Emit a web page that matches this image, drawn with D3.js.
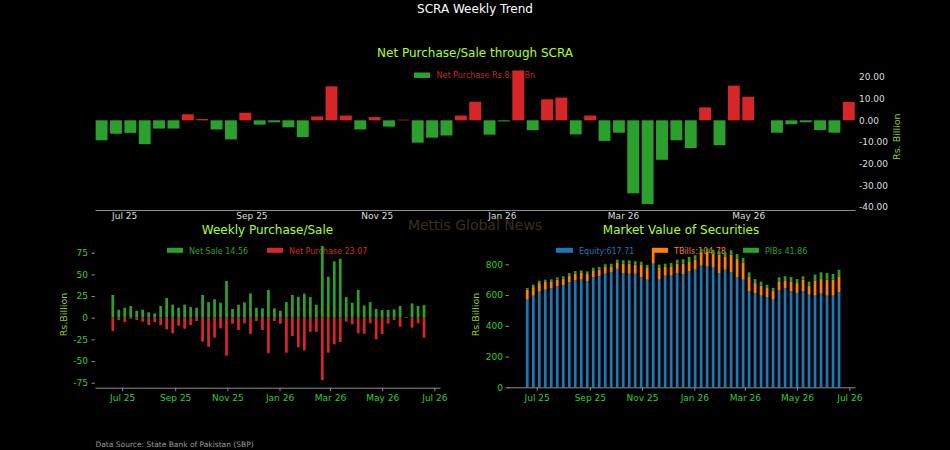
<!DOCTYPE html>
<html><head><meta charset="utf-8">
<script src="https://cdn.jsdelivr.net/npm/d3@7"></script>
<style>html,body{margin:0;padding:0;background:#000;}svg{display:block;}text{font-family:"DejaVu Sans",sans-serif;}</style>
</head><body><svg id="c" width="950" height="450"></svg>
<script>
// ---------------- DATA ----------------
const weekDates = ["2025-06-20","2025-06-27","2025-07-04","2025-07-11","2025-07-18","2025-07-25","2025-08-01","2025-08-08","2025-08-15","2025-08-22","2025-08-29","2025-09-05","2025-09-12","2025-09-19","2025-09-26","2025-10-03","2025-10-10","2025-10-17","2025-10-24","2025-10-31","2025-11-07","2025-11-14","2025-11-21","2025-11-28","2025-12-05","2025-12-12","2025-12-19","2025-12-26","2026-01-02","2026-01-09","2026-01-16","2026-01-23","2026-01-30","2026-02-06","2026-02-13","2026-02-20","2026-02-27","2026-03-06","2026-03-13","2026-03-20","2026-03-27","2026-04-03","2026-04-10","2026-04-17","2026-04-24","2026-05-01","2026-05-08","2026-05-15","2026-05-22","2026-05-29","2026-06-05","2026-06-12","2026-06-19"];
// Net purchase(+)/sale(-) through SCRA, Rs. Billion
const netFlow = [-9.2,-6.2,-5.8,-11.0,-3.8,-3.8,2.8,0.6,-4.2,-8.8,3.5,-2.0,-0.9,-3.2,-7.7,1.8,15.7,2.2,-4.2,1.5,-2.9,0.3,-10.3,-8.0,-7.0,2.2,8.6,-6.6,-0.5,23.0,-4.5,9.7,10.5,-6.5,2.2,-9.5,-5.7,-33.7,-38.6,-18.2,-9.2,-12.8,6.0,-11.5,16.0,10.9,0,-5.7,-1.8,-0.9,-4.5,-5.7,8.51];
// Weekly gross sale (green, up) and purchase (red, down)
const weeklySale = [26.2,9.2,11.5,13.5,8.0,9.2,6.2,5.0,13.5,22.7,15.0,11.5,15.0,12.3,11.5,26.2,18.0,21.2,17.3,42.3,10.0,15.0,17.7,28.0,11.5,10.8,32.0,10.8,8.0,18.0,26.2,24.2,27.7,23.8,15.0,82.7,47.3,65.0,68.0,23.8,17.3,32.0,14.2,18.0,10.0,8.8,8.8,9.6,13.5,0.9,16.5,13.5,14.56];
const weeklyPurchase = [15.4,2.7,5.0,1.2,2.7,4.6,8.5,5.0,8.5,13.5,18.0,9.2,12.7,8.5,3.8,27.7,33.5,23.0,12.3,43.8,6.9,14.2,6.5,18.8,3.8,14.2,41.0,3.8,6.9,40.4,21.2,34.2,37.7,16.2,16.2,72.0,40.4,30.8,28.0,4.6,7.7,18.0,18.5,6.5,25.0,18.8,6.9,2.7,10.4,0,11.5,6.5,23.07];
// Market value of securities, Rs. Billion
const equity = [570,596,622,635,646,657,663,683,696,700,691,717,722,739,748,770,743,739,739,715,700,804,700,726,726,743,736,754,765,792,785,778,743,765,748,717,700,624,613,596,587,570,630,646,624,613,624,602,596,609,596,596,617.71];
const tbills = [65,56,56,50,39,43,44,43,43,48,50,44,45,44,39,39,61,65,59,81,76,102,76,57,61,61,68,66,65,86,95,92,120,87,115,118,113,93,65,65,59,60,59,50,65,65,76,59,100,95,104,104,104.78];
const pibs = [11,15,15,15,17,15,15,17,17,13,13,17,16,17,17,21,22,22,22,21,20,0,22,21,22,26,29,28,29,22,22,25,22,26,28,32,28,31,26,26,21,16,26,26,28,26,22,26,37,44,43,37,41.86];
const topYTicks = [-40,-30,-20,-10,0,10,20];
const leftYTicks = [-75,-50,-25,0,25,50,75];
const rightYTicks = [0,200,400,600,800];

// ---------------- SETUP ----------------
const svg = d3.select("#c");
const parse = d3.timeParse("%Y-%m-%d");
const dates = weekDates.map(parse);
const DAY = 864e5;
const GREEN="#2ca02c", RED="#d62728", BLUE="#1f77b4", ORANGE="#ff7f0e";
const TITLE="#adff2f", YLAB="#9acd32", TICK="#32cd32", SPINE="#8c8c8c";
const fmtMonth = d3.timeFormat("%b %y");
const shift = (d, days) => new Date(+d + days*DAY);
function extend(scale, r0, r1){
  const d0 = scale.invert(r0), d1 = scale.invert(r1);
  return scale.domain([d0, d1]).range([r0, r1]);
}
function styleAxis(g, textColor, size){
  g.attr("font-family","DejaVu Sans, sans-serif").attr("font-size", size);
  g.selectAll(".tick text").attr("fill", textColor);
  g.selectAll(".tick line").attr("stroke", SPINE);
  g.select(".domain").attr("stroke", SPINE);
}
function txt(x, y, s, color, size, anchor){
  return svg.append("text").attr("x",x).attr("y",y).text(s)
    .attr("fill",color).attr("font-size",size).attr("text-anchor",anchor||"start");
}

// ---------------- MAIN TITLE ----------------
txt(475, 12.5, "SCRA Weekly Trend", "#ffffff", 12, "middle");

// ---------------- TOP CHART ----------------
const xT = extend(d3.scaleTime().domain([dates[0], dates[dates.length-1]]).range([101.6, 848.8]), 95, 855);
const yT = d3.scaleLinear().domain([-40, 20]).range([207, 77]);

txt(475, 57, "Net Purchase/Sale through SCRA", TITLE, 12, "middle");
svg.append("rect").attr("x",414).attr("y",72.5).attr("width",16).attr("height",5.5).attr("fill",GREEN);
txt(436.5, 78, "Net Purchase Rs." + netFlow[netFlow.length-1].toFixed(2) + " Bn", "#c42529", 8);

svg.append("g").selectAll("rect").data(dates).join("rect")
  .attr("x", d => xT(shift(d,-2.9)))
  .attr("width", d => xT(shift(d,2.9)) - xT(shift(d,-2.9)))
  .attr("y", (d,i) => yT(Math.max(0, netFlow[i])))
  .attr("height", (d,i) => Math.abs(yT(netFlow[i]) - yT(0)))
  .attr("fill", (d,i) => netFlow[i] < 0 ? GREEN : RED);

const axTx = svg.append("g").attr("transform","translate(0,210)")
  .call(d3.axisBottom(xT).ticks(d3.timeMonth.every(2)).tickFormat(fmtMonth).tickSize(0).tickSizeOuter(0).tickPadding(3));
styleAxis(axTx, "#dddddd", 9);
const axTy = svg.append("g").attr("transform","translate(855,0)")
  .call(d3.axisRight(yT).tickValues(topYTicks).tickFormat(v => d3.format(".2f")(v).replace("\u2212","-")).tickSize(0).tickPadding(4));
styleAxis(axTy, "#dddddd", 9);
axTy.select(".domain").remove();
svg.append("text").attr("transform","translate(900,136.7) rotate(-90)").attr("text-anchor","middle")
  .attr("fill",YLAB).attr("font-size",9.5).text("Rs. Billion");

// ---------------- BOTTOM LEFT ----------------
const xL = extend(d3.scaleTime().domain([new Date(2025,6,1), new Date(2026,6,1)]).range([122.2, 434.3]), 95, 440);
const yL = d3.scaleLinear().domain([-75, 75]).range([382.7, 252.7]);

txt(267.5, 233.5, "Weekly Purchase/Sale", TITLE, 12, "middle");
svg.append("rect").attr("x",167).attr("y",247.8).attr("width",16).attr("height",5).attr("fill",GREEN);
txt(189, 253.5, "Net Sale " + weeklySale[weeklySale.length-1].toFixed(2), GREEN, 8);
svg.append("rect").attr("x",267).attr("y",247.8).attr("width",16).attr("height",5).attr("fill",RED);
txt(289, 253.5, "Net Purchase " + weeklyPurchase[weeklyPurchase.length-1].toFixed(2), RED, 8);

const gL = svg.append("g");
gL.selectAll("rect.s").data(dates).join("rect").attr("class","s")
  .attr("x", d => xL(shift(d,-1.6)))
  .attr("width", d => xL(shift(d,1.6)) - xL(shift(d,-1.6)))
  .attr("y", (d,i) => yL(weeklySale[i]))
  .attr("height", (d,i) => yL(0) - yL(weeklySale[i]))
  .attr("fill", GREEN);
gL.selectAll("rect.p").data(dates).join("rect").attr("class","p")
  .attr("x", d => xL(shift(d,-1.6)))
  .attr("width", d => xL(shift(d,1.6)) - xL(shift(d,-1.6)))
  .attr("y", yL(0))
  .attr("height", (d,i) => yL(-weeklyPurchase[i]) - yL(0))
  .attr("fill", RED);

const axLx = svg.append("g").attr("transform","translate(0,387.7)")
  .call(d3.axisBottom(xL).ticks(d3.timeMonth.every(2)).tickFormat(fmtMonth).tickSize(3.5).tickSizeOuter(0).tickPadding(3.5));
styleAxis(axLx, TICK, 9);
const axLy = svg.append("g").attr("transform","translate(95,0)")
  .call(d3.axisLeft(yL).tickValues(leftYTicks).tickFormat(v => String(v)).tickSize(3.5).tickPadding(3.5));
styleAxis(axLy, TICK, 9);
axLy.select(".domain").remove();
svg.append("text").attr("transform","translate(67,314.5) rotate(-90)").attr("text-anchor","middle")
  .attr("fill",YLAB).attr("font-size",9.5).text("Rs.Billion");

// ---------------- BOTTOM RIGHT ----------------
const xR = extend(d3.scaleTime().domain([new Date(2025,6,1), new Date(2026,6,1)]).range([536.7, 849.3]), 507, 855);
const yR = d3.scaleLinear().domain([0, 800]).range([387.3, 264.3]);

txt(681, 233.5, "Market Value of Securities", TITLE, 12, "middle");
svg.append("rect").attr("x",556).attr("y",247.8).attr("width",17).attr("height",5).attr("fill",BLUE);
txt(579, 253.5, "Equity:" + equity[equity.length-1].toFixed(2), BLUE, 8);
svg.append("rect").attr("x",652).attr("y",247.8).attr("width",16).attr("height",5).attr("fill",ORANGE);
txt(674, 253.5, "TBills:" + tbills[tbills.length-1].toFixed(2), ORANGE, 8);
svg.append("rect").attr("x",743).attr("y",247.8).attr("width",16).attr("height",5).attr("fill",GREEN);
txt(765, 253.5, "PIBs " + pibs[pibs.length-1].toFixed(2), GREEN, 8);

const stackRows = dates.map((d,i) => ({date:d, equity:equity[i], tbills:tbills[i], pibs:pibs[i]}));
const series = d3.stack().keys(["equity","tbills","pibs"])(stackRows);
const colorOf = {equity:BLUE, tbills:ORANGE, pibs:GREEN};
svg.append("g").selectAll("g").data(series).join("g").attr("fill", s => colorOf[s.key])
  .selectAll("rect").data(s => s).join("rect")
  .attr("x", d => xR(shift(d.data.date,-1.6)))
  .attr("width", d => xR(shift(d.data.date,1.6)) - xR(shift(d.data.date,-1.6)))
  .attr("y", d => yR(d[1]))
  .attr("height", d => yR(d[0]) - yR(d[1]));

const axRx = svg.append("g").attr("transform","translate(0,387.3)")
  .call(d3.axisBottom(xR).ticks(d3.timeMonth.every(2)).tickFormat(fmtMonth).tickSize(3.5).tickSizeOuter(0).tickPadding(3.5));
styleAxis(axRx, TICK, 9);
const axRy = svg.append("g").attr("transform","translate(509,0)")
  .call(d3.axisLeft(yR).tickValues(rightYTicks).tickFormat(v => String(v)).tickSize(3.5).tickPadding(2.5));
styleAxis(axRy, TICK, 9);
axRy.select(".domain").remove();
svg.append("text").attr("transform","translate(478.5,314.5) rotate(-90)").attr("text-anchor","middle")
  .attr("fill",YLAB).attr("font-size",9.5).text("Rs.Billion");

// ---------------- FOOTER / WATERMARK ----------------
txt(95.5, 447, "Data Source: State Bank of Pakistan (SBP)", "#9a9a9a", 7.5);
txt(475, 230, "Mettis Global News", "#3b3119", 14, "middle");
</script></body></html>
